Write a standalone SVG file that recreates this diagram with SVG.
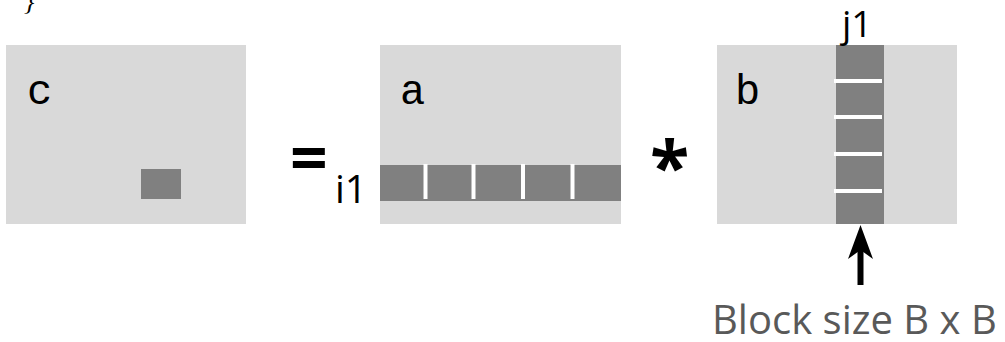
<svg xmlns="http://www.w3.org/2000/svg" width="1005" height="342" viewBox="0 0 1005 342">
<style>
.mat{fill:#d9d9d9}
.blk{fill:#808080}
.sep{stroke:#ffffff;stroke-width:4}
.var{font-family:"Liberation Mono",monospace;font-size:42px;fill:#000}
.lbl{font-family:"Open Sans","Noto Sans",sans-serif;fill:#000}
.op{font-family:"Open Sans","Noto Sans",sans-serif;font-weight:bold;fill:#000}
</style>
<rect width="1005" height="342" fill="#ffffff"/>
<text x="24" y="10" font-family="Liberation Serif,serif" font-style="italic" font-size="26">}</text>
<g id="matrix-c">
<rect class="mat" x="6" y="45" width="240" height="179"/>
<rect class="blk" x="141" y="169" width="40" height="30"/>
<text class="var" x="27" y="104">c</text>
</g>
<g id="equals">
<text class="op" x="290" y="182" font-size="66">=</text>
<text class="lbl" x="335" y="203" font-size="39">i1</text>
</g>
<g id="matrix-a">
<rect class="mat" x="380" y="45" width="241" height="179"/>
<rect class="blk" x="380" y="165" width="241" height="36"/>
<line class="sep" x1="425.5" y1="164" x2="425.5" y2="199"/>
<line class="sep" x1="473.5" y1="164" x2="473.5" y2="199"/>
<line class="sep" x1="523" y1="164" x2="523" y2="199"/>
<line class="sep" x1="572.5" y1="164" x2="572.5" y2="199"/>
<text class="var" x="400" y="104">a</text>
</g>
<g id="times">
<text class="op" x="650" y="193" font-size="72">*</text>
</g>
<g id="matrix-b">
<rect class="mat" x="717" y="45" width="240" height="179"/>
<rect class="blk" x="836" y="45" width="48" height="179"/>
<line class="sep" x1="834" y1="81" x2="882" y2="81"/>
<line class="sep" x1="834" y1="117" x2="882" y2="117"/>
<line class="sep" x1="834" y1="154" x2="882" y2="154"/>
<line class="sep" x1="834" y1="191" x2="882" y2="191"/>
<text class="var" x="735" y="104">b</text>
<text class="lbl" x="842" y="37" font-size="37">j1</text>
</g>
<g id="connectors">
<line x1="860.5" y1="285" x2="860.5" y2="250" stroke="#000" stroke-width="6"/>
<polygon points="860.5,225 873,259 860.5,250 848,259" fill="#000"/>
</g>
<g id="block-label">
<text x="712" y="334" font-family="Open Sans,Noto Sans,sans-serif" font-size="40" fill="#595959">Block size B x B</text>
</g>
</svg>
